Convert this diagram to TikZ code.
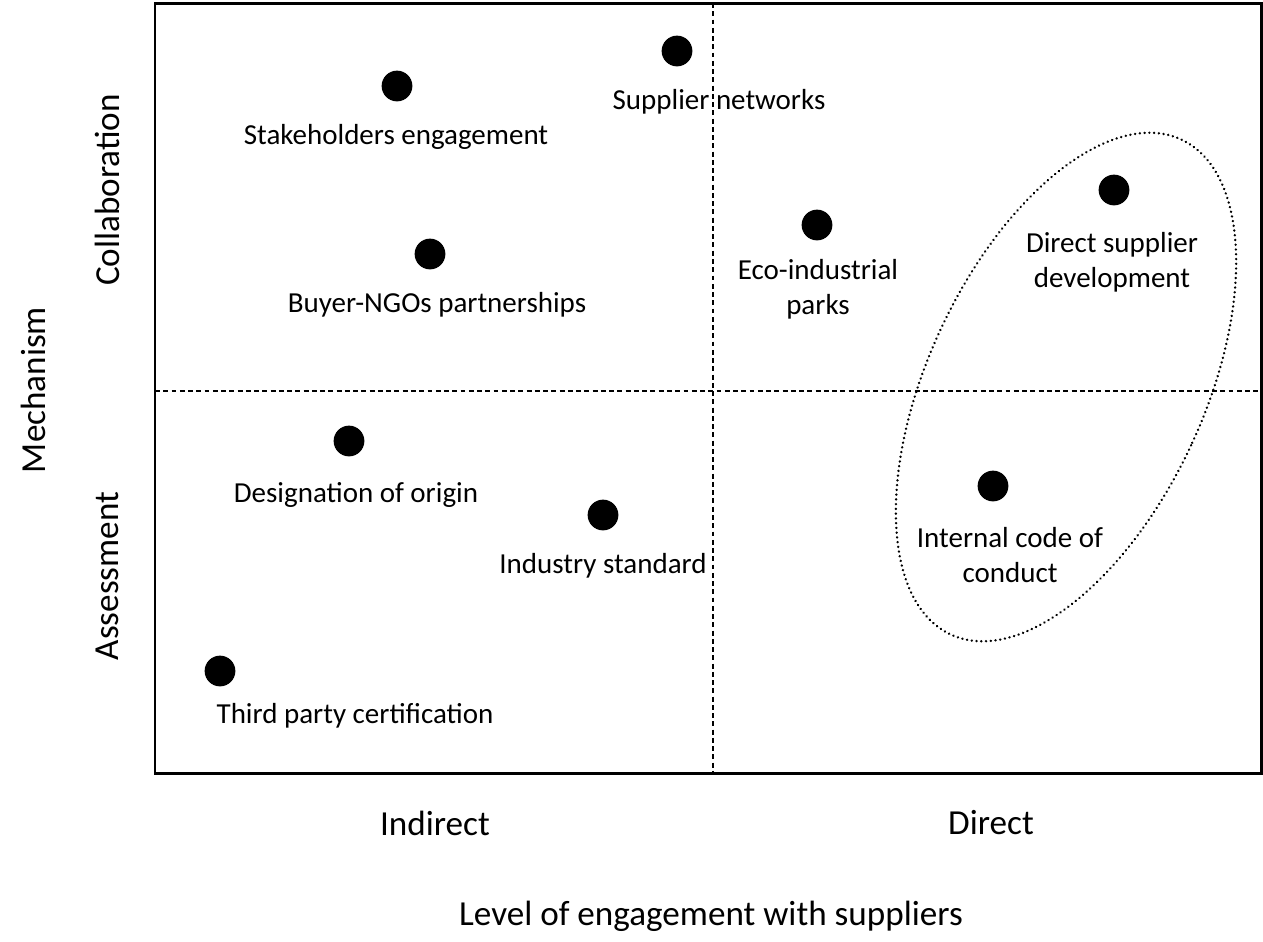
\documentclass[tikz,border=0pt]{standalone}
\usepackage{fontspec}
\setmainfont{Carlito}
\usetikzlibrary{positioning}
\tikzset{
  % one pixel of the chart
  x = 0.02cm,
  y = -0.02cm,
  chart frame/.style = {
    draw = black,
    line width = 1.7pt
  },
  % quadrant separators
  split/.style = {
    draw = black,
    line width = 0.7pt,
    dash pattern = on 2.8pt off 1.9pt
  },
  % dotted ring round a group of dots
  encircle/.style = {
    draw = black,
    line width = 1.5pt,
    line cap = round,
    dash pattern = on 0.01pt off 2.7pt
  }
}
\tikzset {
  % data point
  dot/.style = {
    circle,
    fill = black,
    minimum size = 17.5pt,
    inner sep = 0
  },
  % text under a data point
  tag/.style = {
    align = center,
    inner sep = 0,
    font = \fontsize{16.5pt}{20pt}\selectfont
  },
  % axis text
  axis/.style = {
    inner sep = 0,
    font = \fontsize{20pt}{24pt}\selectfont
  }
}
\begin{document}
\begin{tikzpicture}
    \useasboundingbox (0,0) rectangle (1263,941);

    \coordinate (nw) at (155,3);
    \coordinate (se) at (1261.5,773.5);
    \coordinate (mid-top) at (713,3);
    \coordinate (mid-bottom) at (713,773.5);
    \coordinate (mid-left) at (155,391);
    \coordinate (mid-right) at (1263,391);
    \coordinate (ring) at (1066,387);

    \draw[split] (mid-top) -- (mid-bottom);
    \draw[split] (mid-left) -- (mid-right);
    \draw[chart frame] (nw) rectangle (se);

    % collaboration, indirect
    \node[dot] (stake) at (397,86) {};
    \node[tag] (stake-lbl) at (396,137) {Stakeholders engagement};
    \node[dot] (ngo) at (430,254) {};
    \node[tag] (ngo-lbl) at (437,305) {Buyer-NGOs partnerships};
    \node[dot] (network) at (677,51) {};
    \node[tag] (network-lbl) at (719,102) {Supplier networks};

    % collaboration, direct
    \node[dot] (eco) at (817,225) {};
    \node[tag] (eco-lbl) at (818,289) {Eco-industrial\\parks};
    \node[dot] (develop) at (1114,190) {};
    \node[tag] (develop-lbl) at (1112,262) {Direct supplier\\development};

    % assessment
    \node[dot] (origin) at (349,441) {};
    \node[tag] (origin-lbl) at (356,495) {Designation of origin};
    \node[dot] (industry) at (603,515) {};
    \node[tag] (industry-lbl) at (603,566) {Industry standard};
    \node[dot] (code) at (993,486) {};
    \node[tag] (code-lbl) at (1010,555) {Internal code of\\conduct};
    \node[dot] (third) at (220,671) {};
    \node[tag] (third-lbl) at (355,716) {Third party certification};

    \draw[encircle, rotate around={-25:(ring)}] (ring) ellipse [x radius=138, y radius=273];

    % axes
    \node[axis] (indirect) at (435,823) {Indirect};
    \node[axis] (direct) at (991,823) {Direct};
    \node[axis] (level) at (711,916) {Level of engagement with suppliers};
    \node[axis, rotate=90] (mechanism) at (33,390) {Mechanism};
    \node[axis, rotate=90] (collab) at (107,190) {Collaboration};
    \node[axis, rotate=90] (assess) at (107,576) {Assessment};
\end{tikzpicture}
\end{document}
